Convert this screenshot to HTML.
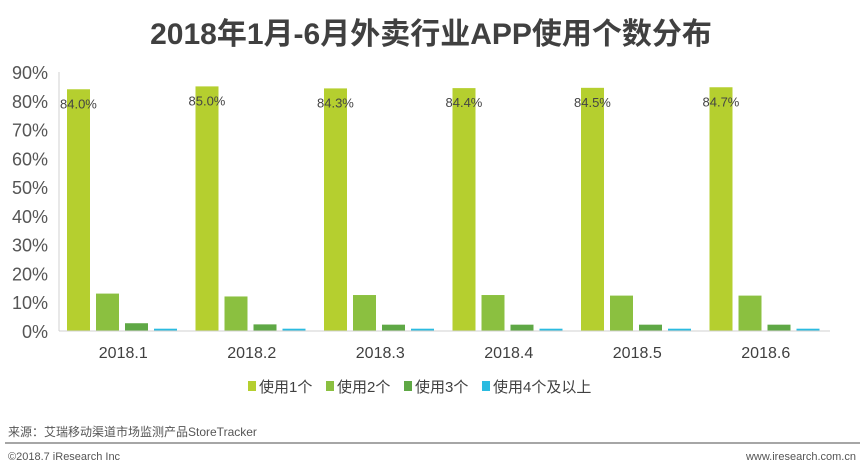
<!DOCTYPE html>
<html><head><meta charset="utf-8"><style>
body{margin:0;width:862px;height:467px;background:#fff;overflow:hidden;font-family:"Liberation Sans","Noto Sans CJK SC",sans-serif;}
</style></head><body>
<svg width="862" height="467" xmlns="http://www.w3.org/2000/svg" style="font-family:'Liberation Sans','Noto Sans CJK SC',sans-serif">
<text x="431" y="44" text-anchor="middle" font-size="30" font-weight="bold" fill="#404040">2018年1月-6月外卖行业APP使用个数分布</text>
<g id="yaxis"></g>
<g id="bars"></g>
<line x1="59" y1="331" x2="830" y2="331" stroke="#d0d0d0"/>
<line x1="59" y1="72" x2="59" y2="331" stroke="#d0d0d0"/>
<g id="legend"></g>
<text x="8" y="436" font-size="12" fill="#555">来源：艾瑞移动渠道市场监测产品StoreTracker</text>
<line x1="5" y1="443" x2="860" y2="443" stroke="#888" stroke-width="1.5"/>
<text x="8" y="460" font-size="11" fill="#555">©2018.7 iResearch Inc</text>
<text x="856" y="460" font-size="11" fill="#555" text-anchor="end">www.iresearch.com.cn</text>
</svg>
<script>
const categories=["2018.1","2018.2","2018.3","2018.4","2018.5","2018.6"];
const series1=[84.0,85.0,84.3,84.4,84.5,84.7];
const series2=[13.0,12.0,12.5,12.5,12.3,12.3];
const series3=[2.7,2.3,2.2,2.2,2.2,2.2];
const series4=[0.8,0.8,0.8,0.8,0.8,0.8];
const seriesNames=["使用1个","使用2个","使用3个","使用4个及以上"];
const yTicks=[0,10,20,30,40,50,60,70,80,90];
const colors=["#b5cf2f","#8bc040","#5fa845","#2bbbe0"];
const NS="http://www.w3.org/2000/svg";
const x0=59,x1=830,y0=331,y90=72;
const y=v=>y0-(v/90)*(y0-y90);
const gw=(x1-x0)/categories.length;
const bw=23,gap=6,off=8;
function mk(t,a,p){const e=document.createElementNS(NS,t);for(const k in a)e.setAttribute(k,a[k]);p.appendChild(e);return e;}
const ya=document.getElementById('yaxis');
yTicks.forEach(t=>{const e=mk('text',{x:48,y:y(t)+7,'text-anchor':'end','font-size':18,fill:'#555'},ya);e.textContent=t+'%';

});
const bars=document.getElementById('bars');
const all=[series1,series2,series3,series4];
categories.forEach((c,i)=>{
 const gx=x0+i*gw;
 all.forEach((s,j)=>{const bx=gx+off+j*(bw+gap);
  const r=mk('rect',{x:bx,y:y(s[i]),width:bw,height:y0-y(s[i]),fill:colors[j]},bars);
  
  
  if(j===0){const t=mk('text',{x:bx-7,y:y(s[i])+19,'font-size':13,fill:'#444'},bars);t.textContent=s[i].toFixed(1)+'%';
   
   }
 });
 const t=mk('text',{x:gx+gw/2,y:358,'text-anchor':'middle','font-size':16,fill:'#404040'},bars);t.textContent=c;
 
 
});
const lg=document.getElementById('legend');
let lx=248;
const lw=[72,72,72,110];
seriesNames.forEach((n,j)=>{
 const r=mk('rect',{x:lx,y:381,width:8,height:10,fill:colors[j]},lg);
 
 
 const t=mk('text',{x:lx+11,y:392,'font-size':15,fill:'#404040'},lg);t.textContent=n;
 
 
 lx+=lw[j]+6;
});
</script>
</body></html>
